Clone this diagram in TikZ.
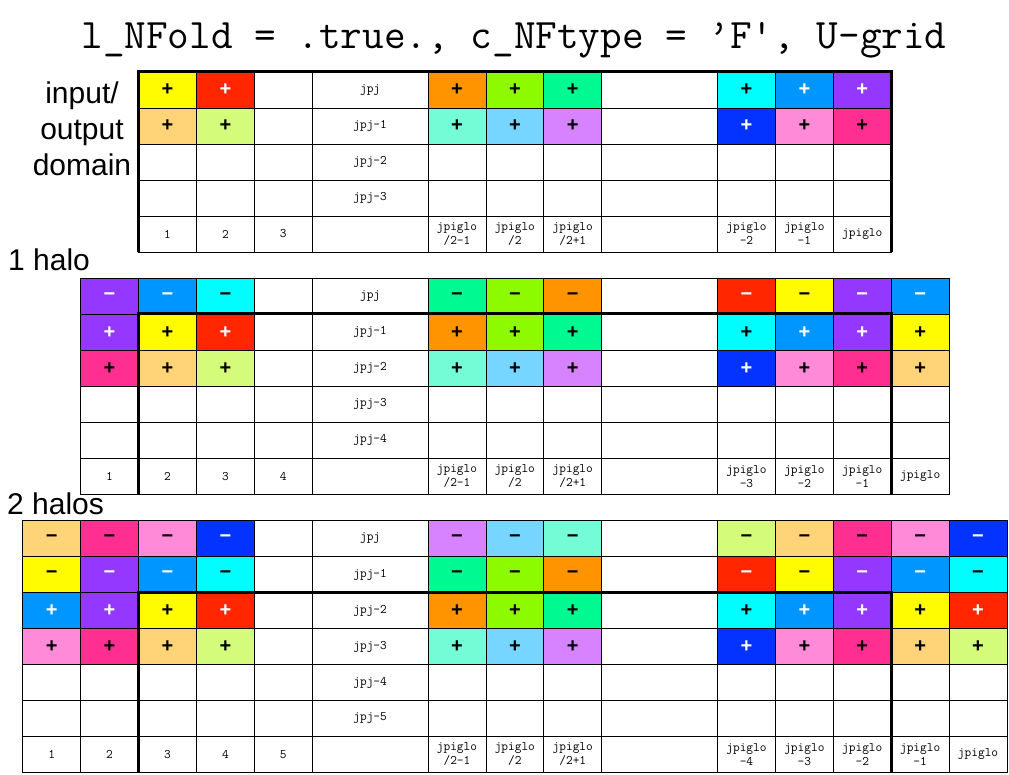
\documentclass[tikz,border=0pt]{standalone}
\usepackage{fontspec}
\usepackage{tikz}
\newfontfamily\helv{Liberation Sans}
\definecolor{lemon}{HTML}{FFFB00}
\definecolor{maraschino}{HTML}{FF2600}
\definecolor{tangerine}{HTML}{FF9300}
\definecolor{limecrayon}{HTML}{8EFA00}
\definecolor{seafoam}{HTML}{00FA92}
\definecolor{turquoise}{HTML}{00FDFF}
\definecolor{aquablue}{HTML}{0096FF}
\definecolor{grape}{HTML}{9437FF}
\definecolor{cantaloupe}{HTML}{FFD479}
\definecolor{honeydew}{HTML}{D4FB79}
\definecolor{spindrift}{HTML}{73FCD6}
\definecolor{skyblue}{HTML}{76D6FF}
\definecolor{lavender}{HTML}{D783FF}
\definecolor{blueberry}{HTML}{0433FF}
\definecolor{carnation}{HTML}{FF8AD8}
\definecolor{strawberry}{HTML}{FF2F92}
\newcommand{\cellfont}{\ttfamily\fontsize{13}{14}\selectfont}
\newcommand{\signfont}{\helv\bfseries\fontsize{20}{20}\selectfont}
\newcommand{\lblfont}{\helv\fontsize{30}{36}\selectfont}

\begin{document}
\begin{tikzpicture}[x=1pt, y=-1pt,
    cell/.style={draw, line width=0.8pt, anchor=west, minimum width=57.9pt, minimum height=36pt, inner sep=0pt, align=center, font=\cellfont},
    wide/.style={cell, minimum width=115.8pt},
    sgn/.style={cell, font=\signfont},
    dsg/.style={sgn, text=white},
    yel/.style={sgn, fill=lemon},
    mar/.style={dsg, fill=maraschino},
    tng/.style={sgn, fill=tangerine},
    lim/.style={sgn, fill=limecrayon},
    sea/.style={sgn, fill=seafoam},
    trq/.style={sgn, fill=turquoise},
    aqu/.style={dsg, fill=aquablue},
    grp/.style={dsg, fill=grape},
    cnt/.style={sgn, fill=cantaloupe},
    hny/.style={sgn, fill=honeydew},
    spd/.style={sgn, fill=spindrift},
    sky/.style={sgn, fill=skyblue},
    lav/.style={sgn, fill=lavender},
    bby/.style={dsg, fill=blueberry},
    crn/.style={sgn, fill=carnation},
    stb/.style={sgn, fill=strawberry},
    inner border/.style={line width=3pt},
    lbl/.style={font=\lblfont, inner sep=0pt},
]
\useasboundingbox (0,0) rectangle (1009,775);

\node[anchor=base, inner sep=0pt, font=\ttfamily\fontsize{42}{42}\selectfont] (title) at (514,49) {l\_NFold = .true., c\_NFtype = ’F', U-grid};

% input/output domain
\node[lbl, align=center, anchor=base] (io) at (82,176) {input/\\output\\domain};
\foreach \s/\st/\t in {2/yel/+, 3/mar/+, 4/cell/{}, 5/wide/jpj, 7/tng/+, 8/lim/+, 9/sea/+, 10/wide/{}, 12/trq/+, 13/aqu/+, 14/grp/+}
    \node[\st] (g1-1-\s) at ({22.3+57.9*\s},90) {\t};
\foreach \s/\st/\t in {2/cnt/+, 3/hny/+, 4/cell/{}, 5/wide/jpj-1, 7/spd/+, 8/sky/+, 9/lav/+, 10/wide/{}, 12/bby/+, 13/crn/+, 14/stb/+}
    \node[\st] (g1-2-\s) at ({22.3+57.9*\s},126) {\t};
\foreach \r/\lab in {3/jpj-2, 4/jpj-3}
    \foreach \s/\st/\t in {2/cell/{}, 3/cell/{}, 4/cell/{}, 5/wide/\lab, 7/cell/{}, 8/cell/{}, 9/cell/{}, 10/wide/{}, 12/cell/{}, 13/cell/{}, 14/cell/{}}
        \node[\st] (g1-\r-\s) at ({22.3+57.9*\s},{90+36*(\r-1)}) {\t};
\foreach \s/\st/\t in {2/cell/1, 3/cell/2, 4/cell/3, 5/wide/{}, 7/cell/{jpiglo\\/2-1}, 8/cell/{jpiglo\\/2}, 9/cell/{jpiglo\\/2+1}, 10/wide/{}, 12/cell/{jpiglo\\-2}, 13/cell/{jpiglo\\-1}, 14/cell/jpiglo}
    \node[\st] (g1-5-\s) at ({22.3+57.9*\s},234) {\t};
\draw[inner border] (g1-5-2.south west) -- (g1-1-2.north west) -- (g1-1-14.north east) -- (g1-5-14.south east);

% 1 halo
\node[lbl, anchor=base west] (halo1) at (8,271) {1 halo};
\foreach \s/\st/\t in {1/grp/−, 2/aqu/−, 3/trq/−, 4/cell/{}, 5/wide/jpj, 7/sea/−, 8/lim/−, 9/tng/−, 10/wide/{}, 12/mar/−, 13/yel/−, 14/grp/−, 15/aqu/−}
    \node[\st] (g2-1-\s) at ({22.3+57.9*\s},296.3) {\t};
\foreach \s/\st/\t in {1/grp/+, 2/yel/+, 3/mar/+, 4/cell/{}, 5/wide/jpj-1, 7/tng/+, 8/lim/+, 9/sea/+, 10/wide/{}, 12/trq/+, 13/aqu/+, 14/grp/+, 15/yel/+}
    \node[\st] (g2-2-\s) at ({22.3+57.9*\s},332.3) {\t};
\foreach \s/\st/\t in {1/stb/+, 2/cnt/+, 3/hny/+, 4/cell/{}, 5/wide/jpj-2, 7/spd/+, 8/sky/+, 9/lav/+, 10/wide/{}, 12/bby/+, 13/crn/+, 14/stb/+, 15/cnt/+}
    \node[\st] (g2-3-\s) at ({22.3+57.9*\s},368.3) {\t};
\foreach \r/\lab in {4/jpj-3, 5/jpj-4}
    \foreach \s/\st/\t in {1/cell/{}, 2/cell/{}, 3/cell/{}, 4/cell/{}, 5/wide/\lab, 7/cell/{}, 8/cell/{}, 9/cell/{}, 10/wide/{}, 12/cell/{}, 13/cell/{}, 14/cell/{}, 15/cell/{}}
        \node[\st] (g2-\r-\s) at ({22.3+57.9*\s},{296.3+36*(\r-1)}) {\t};
\foreach \s/\st/\t in {1/cell/1, 2/cell/2, 3/cell/3, 4/cell/4, 5/wide/{}, 7/cell/{jpiglo\\/2-1}, 8/cell/{jpiglo\\/2}, 9/cell/{jpiglo\\/2+1}, 10/wide/{}, 12/cell/{jpiglo\\-3}, 13/cell/{jpiglo\\-2}, 14/cell/{jpiglo\\-1}, 15/cell/jpiglo}
    \node[\st] (g2-6-\s) at ({22.3+57.9*\s},476.3) {\t};
\draw[inner border] (g2-6-2.south west) -- (g2-2-2.north west) -- (g2-2-14.north east) -- (g2-6-14.south east);

% 2 halos
\node[lbl, anchor=base west] (halo2) at (7,514) {2 halos};
\foreach \s/\st/\t in {0/cnt/−, 1/stb/−, 2/crn/−, 3/bby/−, 4/cell/{}, 5/wide/jpj, 7/lav/−, 8/sky/−, 9/spd/−, 10/wide/{}, 12/hny/−, 13/cnt/−, 14/stb/−, 15/crn/−, 16/bby/−}
    \node[\st] (g3-1-\s) at ({22.3+57.9*\s},538.5) {\t};
\foreach \s/\st/\t in {0/yel/−, 1/grp/−, 2/aqu/−, 3/trq/−, 4/cell/{}, 5/wide/jpj-1, 7/sea/−, 8/lim/−, 9/tng/−, 10/wide/{}, 12/mar/−, 13/yel/−, 14/grp/−, 15/aqu/−, 16/trq/−}
    \node[\st] (g3-2-\s) at ({22.3+57.9*\s},574.5) {\t};
\foreach \s/\st/\t in {0/aqu/+, 1/grp/+, 2/yel/+, 3/mar/+, 4/cell/{}, 5/wide/jpj-2, 7/tng/+, 8/lim/+, 9/sea/+, 10/wide/{}, 12/trq/+, 13/aqu/+, 14/grp/+, 15/yel/+, 16/mar/+}
    \node[\st] (g3-3-\s) at ({22.3+57.9*\s},610.5) {\t};
\foreach \s/\st/\t in {0/crn/+, 1/stb/+, 2/cnt/+, 3/hny/+, 4/cell/{}, 5/wide/jpj-3, 7/spd/+, 8/sky/+, 9/lav/+, 10/wide/{}, 12/bby/+, 13/crn/+, 14/stb/+, 15/cnt/+, 16/hny/+}
    \node[\st] (g3-4-\s) at ({22.3+57.9*\s},646.5) {\t};
\foreach \r/\lab in {5/jpj-4, 6/jpj-5}
    \foreach \s/\st/\t in {0/cell/{}, 1/cell/{}, 2/cell/{}, 3/cell/{}, 4/cell/{}, 5/wide/\lab, 7/cell/{}, 8/cell/{}, 9/cell/{}, 10/wide/{}, 12/cell/{}, 13/cell/{}, 14/cell/{}, 15/cell/{}, 16/cell/{}}
        \node[\st] (g3-\r-\s) at ({22.3+57.9*\s},{538.5+36*(\r-1)}) {\t};
\foreach \s/\st/\t in {0/cell/1, 1/cell/2, 2/cell/3, 3/cell/4, 4/cell/5, 5/wide/{}, 7/cell/{jpiglo\\/2-1}, 8/cell/{jpiglo\\/2}, 9/cell/{jpiglo\\/2+1}, 10/wide/{}, 12/cell/{jpiglo\\-4}, 13/cell/{jpiglo\\-3}, 14/cell/{jpiglo\\-2}, 15/cell/{jpiglo\\-1}, 16/cell/jpiglo}
    \node[\st] (g3-7-\s) at ({22.3+57.9*\s},754.5) {\t};
\draw[inner border] (g3-7-2.south west) -- (g3-3-2.north west) -- (g3-3-14.north east) -- (g3-7-14.south east);
\end{tikzpicture}
\end{document}
